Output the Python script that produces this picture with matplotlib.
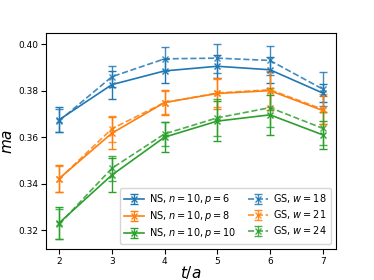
import numpy as np
import matplotlib
matplotlib.use("Agg")
import matplotlib.pyplot as plt

t = [2, 3, 4, 5, 6, 7]

ns_p6 = [0.3675, 0.3826, 0.3885, 0.3905, 0.3890, 0.3790]
ns_p6_err = [0.0055, 0.0060, 0.0052, 0.0050, 0.0055, 0.0040]
ns_p8 = [0.3422, 0.3617, 0.3749, 0.3788, 0.3800, 0.3715]
ns_p8_err = [0.0059, 0.0069, 0.0055, 0.0066, 0.0085, 0.0060]
ns_p10 = [0.3231, 0.3437, 0.3600, 0.3669, 0.3696, 0.3610]
ns_p10_err = [0.0069, 0.0075, 0.0065, 0.0085, 0.0085, 0.0060]

gs_w18 = [0.3670, 0.3860, 0.3937, 0.3940, 0.3930, 0.3807]
gs_w18_err = [0.0050, 0.0045, 0.0052, 0.0062, 0.0063, 0.0075]
gs_w21 = [0.3420, 0.3636, 0.3749, 0.3790, 0.3804, 0.3720]
gs_w21_err = [0.0055, 0.0055, 0.0050, 0.0060, 0.0075, 0.0065]
gs_w24 = [0.3225, 0.3466, 0.3614, 0.3683, 0.3727, 0.3638]
gs_w24_err = [0.0065, 0.0055, 0.0050, 0.0080, 0.0085, 0.0070]

ns_labels = [r"NS, $n = 10, p = 6$", r"NS, $n = 10, p = 8$", r"NS, $n = 10, p = 10$"]
gs_labels = [r"GS, $w = 18$", r"GS, $w = 21$", r"GS, $w = 24$"]
colors = ["#1f77b4", "#ff7f0e", "#2ca02c"]

fig = plt.figure(figsize=(3.74, 2.8), dpi=100)
ax = fig.add_axes([0.123, 0.111, 0.775, 0.771])

ns = [(ns_p6, ns_p6_err), (ns_p8, ns_p8_err), (ns_p10, ns_p10_err)]
gs = [(gs_w18, gs_w18_err), (gs_w21, gs_w21_err), (gs_w24, gs_w24_err)]

for (y, e), lab, c in zip(ns, ns_labels, colors):
    ax.errorbar(t, y, yerr=e, color=c, marker="x", ms=4, lw=1.2,
                capsize=3, elinewidth=1.0, label=lab)
for (y, e), lab, c in zip(gs, gs_labels, colors):
    ax.errorbar(t, y, yerr=e, color=c, marker="x", ms=4, lw=1.2, ls="--",
                capsize=3, elinewidth=1.0, alpha=0.85, label=lab)

ax.set_ylim(0.3119, 0.4048)
ax.set_yticks([0.32, 0.34, 0.36, 0.38, 0.40])
ax.set_xticks(t)
ax.tick_params(labelsize=6.5, pad=2)
ax.set_xlabel(r"$t/a$", fontsize=11)
ax.xaxis.set_label_coords(0.5, -0.07)
ax.set_ylabel(r"$ma$", fontsize=11, labelpad=2)

ax.legend(ncol=2, loc="lower right", fontsize=7, handlelength=2.0,
          columnspacing=1.2, labelspacing=0.3, borderpad=0.4,
          handletextpad=0.6)

fig.savefig("out.png", dpi=100)
